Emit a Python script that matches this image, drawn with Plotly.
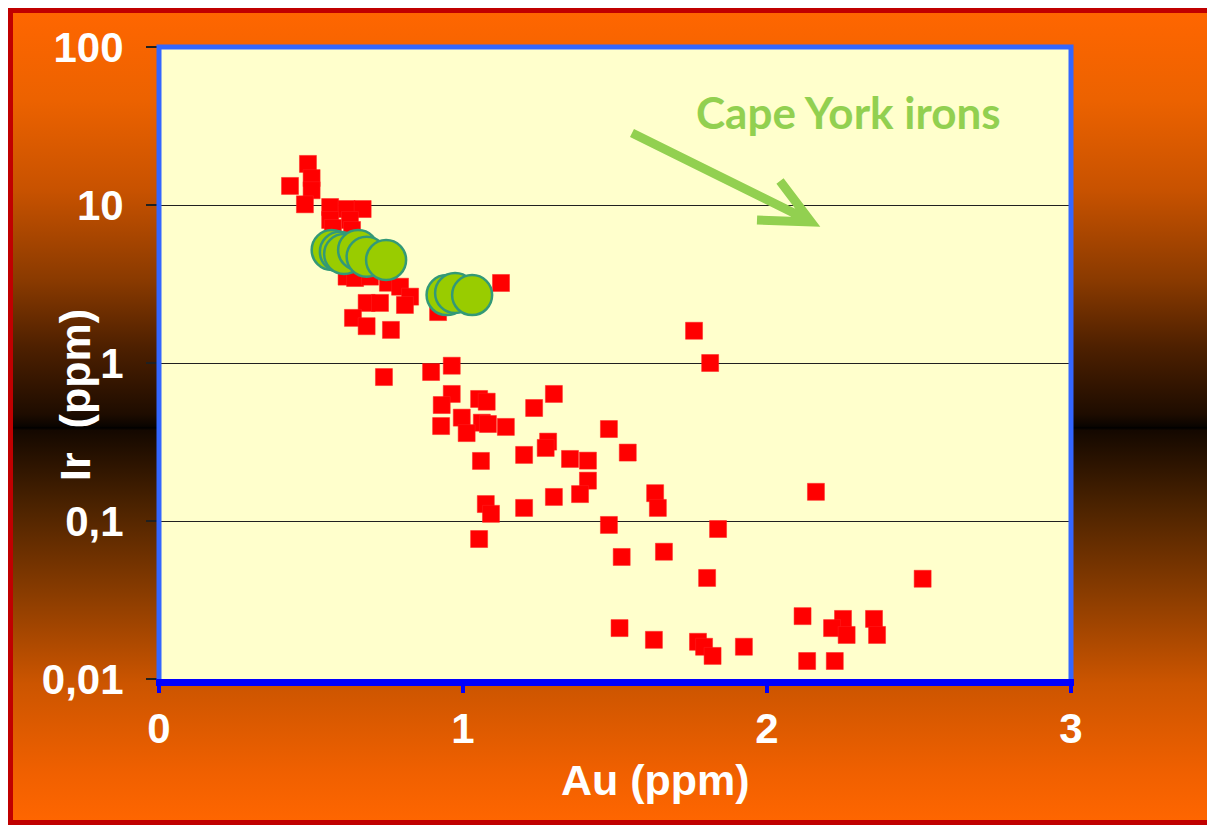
import base64
import plotly.graph_objects as go

# ---- data ----
meteorite_au = [0.431, 0.490, 0.502, 0.502, 0.480, 0.563, 0.617, 0.670, 0.563, 0.628,
                0.572, 0.635, 0.617, 0.645, 0.694, 0.753, 0.793, 0.826, 0.809, 0.683,
                0.727, 0.638, 0.683, 0.763, 0.918, 1.125, 0.740, 0.895, 0.963, 0.963,
                0.930, 1.053, 1.078, 0.996, 1.062, 1.082, 0.928, 1.012, 1.141, 1.234,
                1.299, 1.059, 1.201, 1.280, 1.272, 1.352, 1.411, 1.480, 1.542, 1.411,
                1.385, 1.299, 1.201, 1.075, 1.092, 1.053, 1.632, 1.641, 1.480, 1.839,
                1.522, 1.661, 1.803, 1.760, 1.813, 2.161, 2.512, 1.515, 1.628, 2.117,
                2.250, 2.214, 2.262, 2.352, 2.362, 1.773, 1.793, 1.821, 1.924, 2.132,
                2.223]
meteorite_ir = [13.2, 18.2, 14.8, 12.4, 10.1, 9.71, 9.43, 9.43, 8.04, 8.04,
                7.15, 6.95, 3.52, 3.45, 3.52, 3.22, 3.04, 2.63, 2.33, 2.40,
                2.40, 1.93, 1.71, 1.62, 2.10, 3.21, 0.815, 0.877, 0.961, 0.637,
                0.542, 0.592, 0.569, 0.451, 0.419, 0.411, 0.399, 0.360, 0.394, 0.519,
                0.637, 0.240, 0.262, 0.318, 0.290, 0.247, 0.241, 0.382, 0.271, 0.180,
                0.148, 0.142, 0.121, 0.128, 0.111, 0.0769, 0.150, 0.121, 0.0944, 0.0890,
                0.0592, 0.0639, 0.0436, 1.60, 1.00, 0.153, 0.0431, 0.0210, 0.0177, 0.0250,
                0.0240, 0.0210, 0.0190, 0.0240, 0.0190, 0.0172, 0.0160, 0.0140, 0.0160, 0.0130,
                0.0130]

cape_york_au = [0.568, 0.595, 0.609, 0.655, 0.683, 0.747, 0.946, 0.974, 1.030]
cape_york_ir = [5.19, 5.06, 4.90, 5.19, 4.71, 4.49, 2.69, 2.77, 2.69]

x_ticks = [0, 1, 2, 3]
y_tickvals = [0.01, 0.1, 1, 10, 100]
y_ticktext = ["0,01", "0,1", "1", "10", "100"]

# ---- layout geometry (page body margin removed in post_script) ----
W, H = 1207, 825
L, R, T, B = 159, 136, 47, 146
PW, PH = W - L - R, H - T - B

def px(x):
    return (x - L) / PW

def py(y):
    return (H - B - y) / PH

# background gradient (slide background) as an SVG image
stops = [(0.0, "#FF6600"), (0.11, "#EC6200"), (0.221, "#C85200"), (0.332, "#8A3A00"),
         (0.414, "#4E2000"), (0.497, "#1E0C00"), (0.512, "#0A0400"), (0.514, "#000000"),
         (0.517, "#140800"), (0.608, "#4A2200"), (0.719, "#8A3C00"), (0.829, "#CC5500"),
         (0.939, "#F06000"), (1.0, "#FF6600")]
stop_svg = "".join(f'<stop offset="{o}" stop-color="{c}"/>' for o, c in stops)
svg = (f'<svg xmlns="http://www.w3.org/2000/svg" width="{W}" height="{H}" '
       f'viewBox="0 0 {W} {H}" preserveAspectRatio="none">'
       f'<defs><linearGradient id="g" x1="0" y1="0" x2="0" y2="1">{stop_svg}</linearGradient></defs>'
       f'<rect width="{W}" height="{H}" fill="#FFFFFF"/>'
       f'<rect x="10.5" y="10.5" width="{W + 10}" height="812" fill="url(#g)" stroke="#C00000" stroke-width="5"/>'
       f'</svg>')
svg_uri = "data:image/svg+xml;base64," + base64.b64encode(svg.encode()).decode()

fig = go.Figure()

fig.add_trace(go.Scatter(
    x=meteorite_au, y=meteorite_ir, mode="markers",
    marker=dict(symbol="square", size=17, color="#FF0000",
                line=dict(color="#FF2020", width=0.5)),
    showlegend=False, hoverinfo="x+y"))

fig.add_trace(go.Scatter(
    x=cape_york_au, y=cape_york_ir, mode="markers",
    marker=dict(symbol="circle", size=40, color="#99CC00",
                line=dict(color="#339977", width=2.5)),
    showlegend=False, hoverinfo="x+y"))

tick_font = dict(family="Liberation Sans, Arial, sans-serif", size=42, color="white", weight="bold")

fig.update_xaxes(
    range=[0, 3], tickvals=x_ticks, ticktext=[str(v) for v in x_ticks],
    showgrid=False, zeroline=False, showline=False,
    ticks="outside", ticklen=13, tickwidth=4, tickcolor="#0000FF",
    tickfont=tick_font, ticklabelstandoff=0)

fig.update_yaxes(
    type="log", range=[-2, 2], tickvals=y_tickvals, ticktext=y_ticktext,
    showgrid=True, gridcolor="#202020", gridwidth=1, zeroline=False, showline=False,
    ticks="outside", ticklen=12, tickwidth=1.5, tickcolor="#202020",
    tickfont=tick_font, ticklabelstandoff=14)

shapes = [
    # plot area fill
    dict(type="rect", xref="paper", yref="paper", x0=0, x1=1, y0=0, y1=1,
         fillcolor="#FFFFCC", line=dict(width=0), layer="below"),
    # left / top / right frame
    dict(type="path", xref="paper", yref="paper",
         path=f"M {px(159)} {py(679)} L {px(159)} {py(47)} L {px(1071)} {py(47)} L {px(1071)} {py(679)}",
         line=dict(color="#3366FF", width=5), layer="above"),
    # thick bottom axis bar
    dict(type="rect", xref="paper", yref="paper", x0=px(156), x1=px(1074),
         y0=py(686), y1=py(679), fillcolor="#0000FF", line=dict(width=0), layer="above"),
    # arrow pointing to the Cape York irons
    dict(type="path", xref="paper", yref="paper",
         path=(f"M {px(632)} {py(133)} L {px(810)} {py(221)} "
               f"M {px(780)} {py(181)} L {px(811)} {py(222)} L {px(757)} {py(220)}"),
         line=dict(color="#92D050", width=9), layer="above"),
]

title_font = dict(family="Liberation Sans, Arial, sans-serif", size=43, color="white", weight="bold")
annotations = [
    dict(text="Cape York irons", xref="paper", yref="paper", x=px(848), y=py(112),
         showarrow=False, xanchor="center", yanchor="middle",
         font=dict(family="Lato, Open Sans, sans-serif", size=44, color="#92D050", weight="bold")),
    dict(text="Au (ppm)", xref="paper", yref="paper", x=px(655), y=py(780),
         showarrow=False, xanchor="center", yanchor="middle", font=title_font),
    dict(text="Ir  (ppm)", xref="paper", yref="paper", x=px(75), y=py(395),
         showarrow=False, xanchor="center", yanchor="middle", textangle=-90, font=title_font),
]

fig.update_layout(
    width=W, height=H,
    margin=dict(l=L, r=R, t=T, b=B, pad=0),
    paper_bgcolor="white", plot_bgcolor="#FFFFCC",
    shapes=shapes, annotations=annotations,
    images=[dict(source=svg_uri, xref="paper", yref="paper", x=-L / PW, y=1 + T / PH,
                 sizex=W / PW, sizey=H / PH, xanchor="left", yanchor="top",
                 sizing="stretch", layer="below")],
)

fig.write_html("out.html",
               config={"displayModeBar": False},
               post_script="document.documentElement.style.overflow='hidden';"
                           "document.body.style.overflow='hidden';"
                           "document.body.style.margin='0';")
